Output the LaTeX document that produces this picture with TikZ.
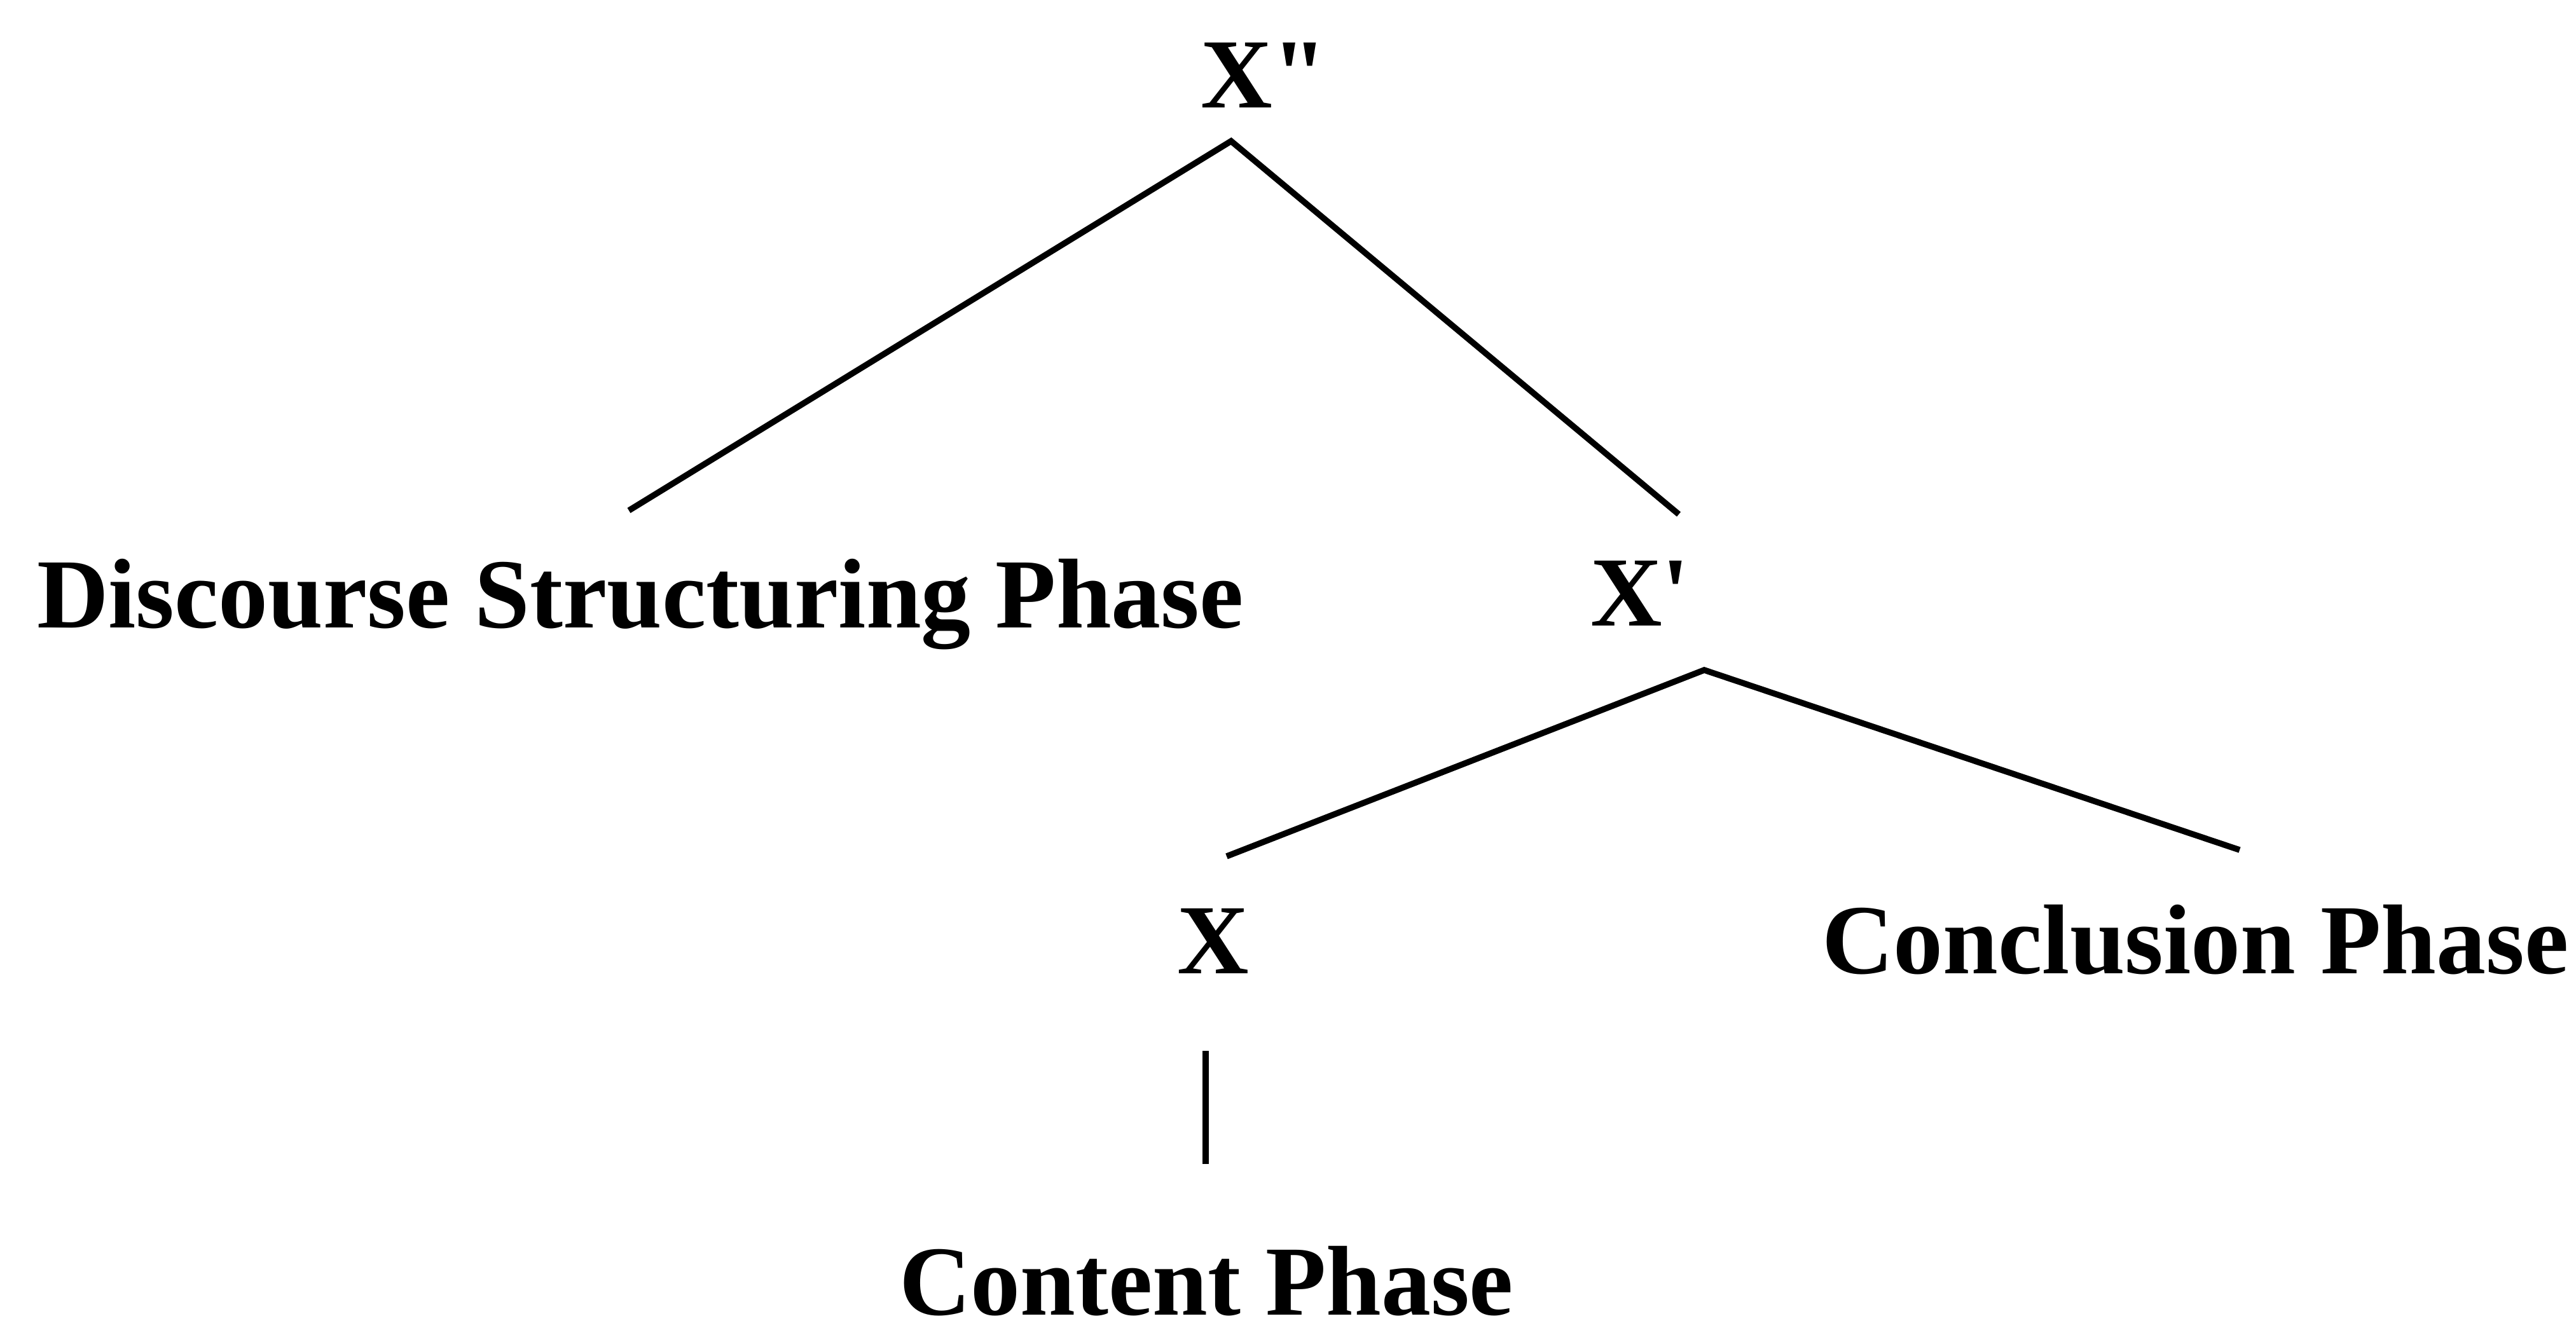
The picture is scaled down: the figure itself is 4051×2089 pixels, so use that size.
\documentclass[tikz,border=0pt]{standalone}
\usepackage{fontspec}
\newfontfamily\labfont{Liberation Serif}
\begin{document}
\begin{tikzpicture}[x=0.1pt, y=-0.1pt,
  label/.style={inner sep=0pt, outer sep=0pt, anchor=base west,
    font=\labfont\bfseries\fontsize{15.6}{18}\selectfont},
  branch/.style={line width=0.95pt, line cap=butt, line join=miter}]
  \useasboundingbox (0,0) rectangle (4051,2089);

  % category labels and phase names
  \node[label] (xpp)  at (1888,170)  {X"};
  \node[label] (dsp)  at (58,987)    {Discourse Structuring Phase};
  \node[label] (xp)   at (2501,985)  {X'};
  \node[label] (x)    at (1851,1531) {X};
  \node[label] (conc) at (2865,1531) {Conclusion Phase};
  \node[label] (cont) at (1414,2068) {Content Phase};

  % branch points and branch ends
  \coordinate (xpp-top)  at (1936,222);
  \coordinate (dsp-end)  at (989,803);
  \coordinate (xp-end)   at (2640,809);
  \coordinate (xp-top)   at (2680,1054);
  \coordinate (x-end)    at (1929,1347);
  \coordinate (conc-end) at (3522,1337);
  \coordinate (x-bot)    at (1896,1653);
  \coordinate (cont-end) at (1896,1831);

  % tree branches
  \draw[branch] (dsp-end) -- (xpp-top) -- (xp-end);
  \draw[branch] (x-end) -- (xp-top) -- (conc-end);
  \draw[branch] (x-bot) -- (cont-end);
\end{tikzpicture}
\end{document}
